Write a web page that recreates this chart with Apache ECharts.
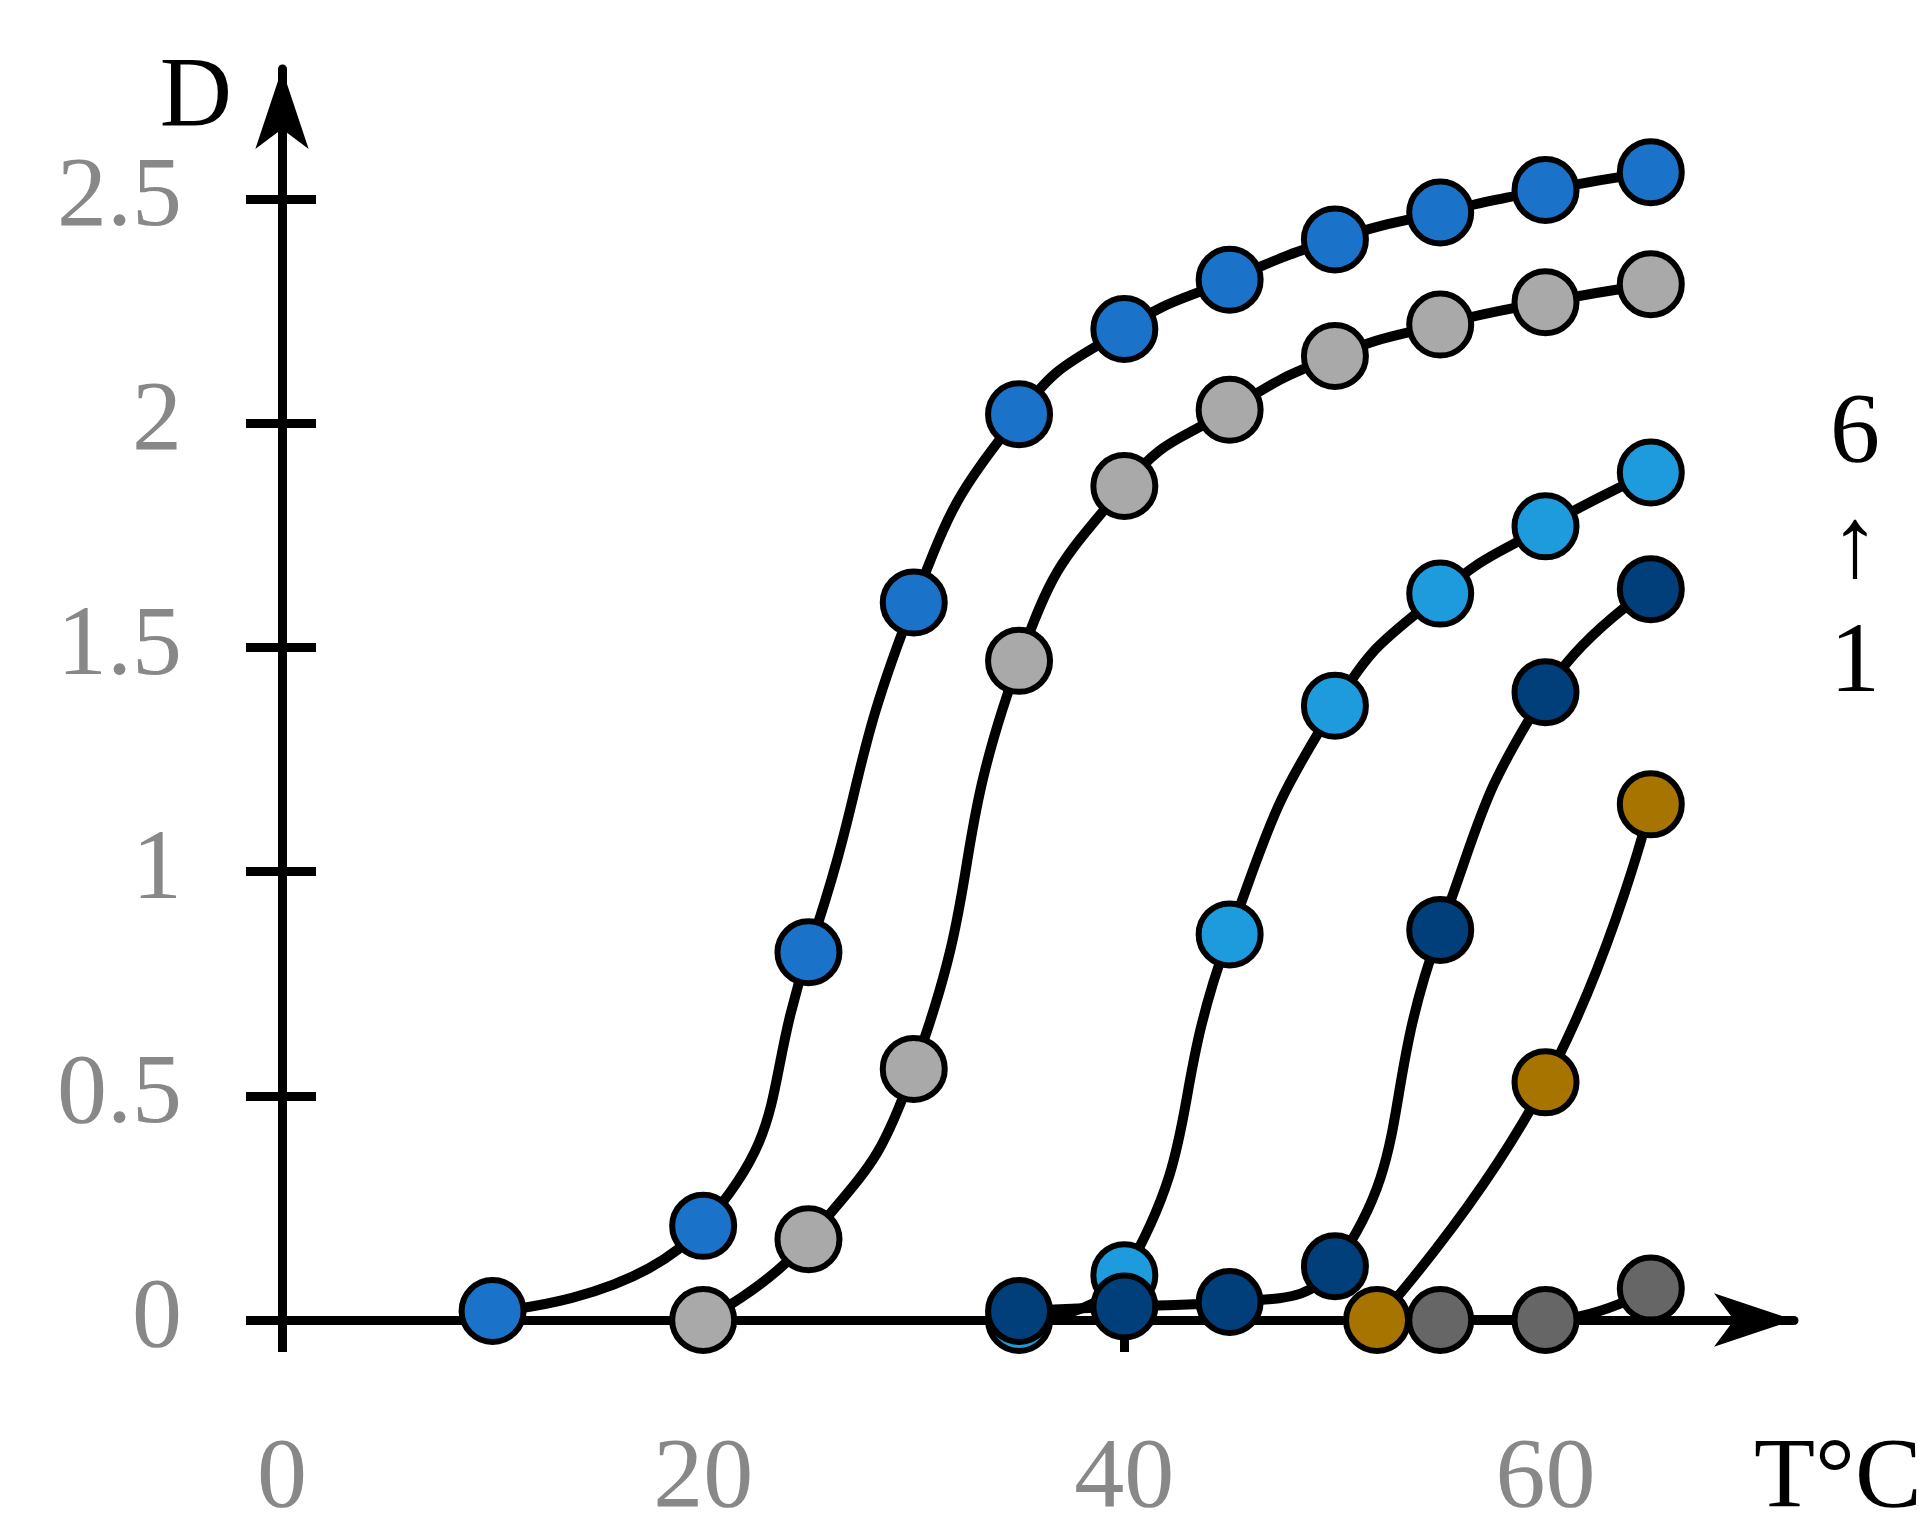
<!DOCTYPE html>
<html><head><meta charset="utf-8">
<script src="https://cdn.jsdelivr.net/npm/echarts@6/dist/echarts.min.js"></script>
<style>html,body{margin:0;background:#fff}#c{width:1926px;height:1530px}</style>
</head><body><div id="c"></div>
<script>
// data
const s1 = [[10,0.02],[20,0.21],[25,0.82],[30,1.6],[35,2.02],[40,2.21],[45,2.32],[50,2.41],[55,2.47],[60,2.52],[65,2.56]];
const s2 = [[20,0],[25,0.18],[30,0.56],[35,1.47],[40,1.86],[45,2.03],[50,2.15],[55,2.22],[60,2.27],[65,2.31]];
const s3 = [[35,0],[40,0.1],[45,0.86],[50,1.37],[55,1.62],[60,1.77],[65,1.89]];
const s4 = [[35,0.02],[40,0.03],[45,0.04],[50,0.12],[55,0.87],[60,1.4],[65,1.63]];
const s5 = [[52,0],[60,0.53],[65,1.15]];
const s6 = [[55,0],[60,0],[65,0.07]];
const yTicks = [0,0.5,1,1.5,2,2.5];
const xTicks = [0,20,40,60];
const colors = ['#1a73c8','#a9a9a9','#1e9bdc','#003f7a','#a87400','#666666'];
const allSeries = [s1,s2,s3,s4,s5,s6];

const serif = 'Liberation Serif';
const chart = echarts.init(document.getElementById('c'));
const yBase = {
  type:'value', min:0, max:2.79, interval:0.5,
  splitLine:{show:false},
  axisLine:{show:false}
};
chart.setOption({
  animation:false,
  grid:{left:282, right:132, top:69, bottom:184},
  xAxis:{
    type:'value', min:0, max:71.8, interval:20,
    name:'T°C', nameLocation:'end', nameGap:0,
    nameTextStyle:{fontFamily:serif, fontSize:100, color:'#000', padding:[110,0,0,-40], verticalAlign:'top'},
    splitLine:{show:false},
    axisLine:{onZero:false, lineStyle:{color:'#000', width:9}, symbol:['none','arrow'], symbolSize:[40,80]},
    axisTick:{customValues:xTicks, lineStyle:{color:'#000', width:9}, length:32},
    axisLabel:{showMaxLabel:false, fontFamily:serif, fontSize:100, color:'#888', margin:110}
  },
  yAxis:[
    Object.assign({}, yBase, {
      name:'D', nameLocation:'end', nameGap:0,
      nameTextStyle:{fontFamily:serif, fontSize:100, color:'#000', padding:[0,50,-40,0], align:'right', verticalAlign:'top'},
      axisLine:{show:true, lineStyle:{color:'#000', width:9}, symbol:['none','arrow'], symbolSize:[40,80]},
      axisTick:{customValues:yTicks, lineStyle:{color:'#000', width:9}, length:36},
      axisLabel:{showMaxLabel:false, fontFamily:serif, fontSize:100, color:'#888', margin:100}
    }),
    Object.assign({}, yBase, {
      position:'left',
      axisTick:{customValues:yTicks, inside:true, lineStyle:{color:'#000', width:9}, length:34},
      axisLabel:{show:false}
    })
  ],
  graphic:[
    {type:'text', left:1830, top:385, style:{text:'6', font:'100px "Liberation Serif"', fill:'#000'}},
    {type:'text', left:1830, top:500, style:{text:'↑', font:'100px "Liberation Serif"', fill:'#000'}},
    {type:'text', left:1830, top:615, style:{text:'1', font:'100px "Liberation Serif"', fill:'#000'}}
  ],
  series: allSeries.map((d,i)=>({
    type:'line', data:d, smooth:0.5, z:3+i,
    symbol:'circle', symbolSize:62,
    lineStyle:{color:'#000', width:10},
    itemStyle:{color:colors[i], borderColor:'#000', borderWidth:6}
  }))
});
</script></body></html>
